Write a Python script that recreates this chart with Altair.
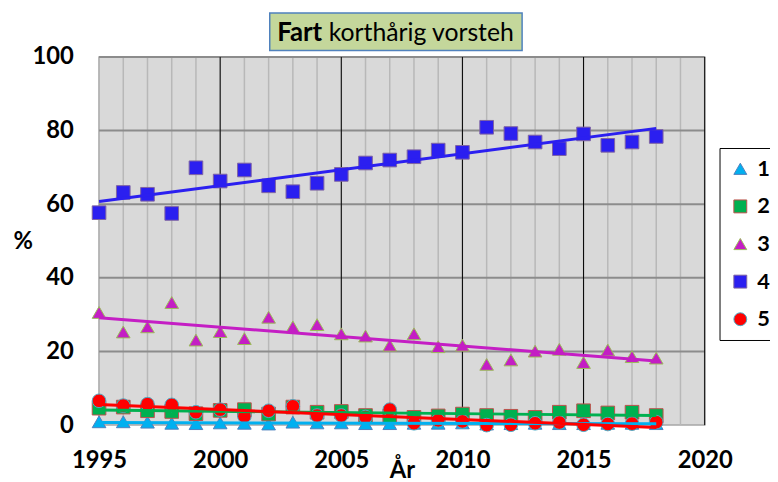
import altair as alt
import pandas as pd

years = list(range(1995, 2019))
s1 = [0.9, 0.9, 0.8, 0.5, 0.4, 0.6, 0.5, 0.3, 0.8, 0.6, 0.6, 0.4, 0.4, 0.5, 0.5, 0.6, 0.3, 0.4, 0.5, 0.4, 0.4, 0.5, 0.5, 0.4]
s2 = [4.6, 4.9, 3.9, 3.7, 3.1, 4.0, 4.2, 3.0, 4.9, 3.5, 3.7, 2.6, 2.4, 2.1, 2.5, 3.0, 2.6, 2.4, 2.1, 3.5, 3.9, 3.3, 3.5, 2.6]
s3 = [30.6, 25.3, 26.7, 33.3, 23.1, 25.4, 23.5, 29.3, 26.7, 27.3, 24.8, 24.2, 21.7, 24.8, 21.3, 21.7, 16.5, 17.7, 20.1, 20.6, 17.0, 20.4, 18.6, 18.2]
s4 = [57.7, 63.2, 62.7, 57.5, 69.9, 66.3, 69.3, 65.0, 63.4, 65.7, 68.1, 71.2, 72.0, 72.9, 74.7, 74.1, 80.9, 79.2, 76.9, 75.1, 79.1, 76.0, 76.9, 78.4]
s5 = [6.6, 5.3, 5.7, 5.5, 3.5, 4.2, 2.4, 3.9, 5.1, 2.6, 2.6, 2.2, 4.2, 0.5, 1.3, 1.0, 0.0, 0.1, 0.5, 0.7, 0.1, 0.3, 0.4, 0.8]

series_names = ["1", "2", "3", "4", "5"]
fill_colors = ["#00b0f0", "#00b050", "#c41ec4", "#2b1ff0", "#ff0000"]
stroke_colors = ["#4f81bd", "#c0504d", "#9bbb59", "#8064a2", "#4bacc6"]
line_colors = ["#00b0f0", "#00b050", "#c41ec4", "#2b1ff0", "#ff0000"]
shapes = ["triangle-up", "square", "triangle-up", "square", "circle"]

x_labels = [1995, 2000, 2005, 2010, 2015, 2020]
minor_years = list(range(1995, 2021))
major_years = [2000, 2005, 2010, 2015, 2020]
y_lines = [0, 20, 40, 60, 80, 100]

title_bold = "Fart"
title_rest = "korthårig vorsteh"
x_title = "År"
y_title = "%"

rows = []
for name, vals in zip(series_names, [s1, s2, s3, s4, s5]):
    for yr, v in zip(years, vals):
        rows.append({"year": yr, "value": v, "series": name})
df = pd.DataFrame(rows)

xscale = alt.Scale(domain=[1995, 2020], nice=False, zero=False)
yscale = alt.Scale(domain=[0, 100], nice=False)

legend = alt.Legend(
    orient="none", legendX=627, legendY=92, title=None,
    strokeColor="black", fillColor="white", padding=10,
    labelFont="Lato", labelFontSize=22, labelFontWeight="bold", labelColor="black",
    symbolSize=170, rowPadding=16, labelOffset=6, symbolStrokeWidth=1,
)

minor = alt.Chart(pd.DataFrame({"year": minor_years})).mark_rule(
    color="#b8b8b8", strokeWidth=1.5
).encode(x=alt.X("year:Q", scale=xscale))

hlines = alt.Chart(pd.DataFrame({"v": y_lines[1:]})).mark_rule(
    color="#8c8c8c", strokeWidth=2
).encode(y=alt.Y("v:Q", scale=yscale))

major = alt.Chart(pd.DataFrame({"year": major_years})).mark_rule(
    color="black", strokeWidth=1
).encode(x=alt.X("year:Q", scale=xscale))

points = alt.Chart(df).mark_point(filled=True, opacity=1, strokeWidth=1, size=190).encode(
    x=alt.X(
        "year:Q",
        scale=xscale,
        axis=alt.Axis(
            values=x_labels, format="d", grid=False, title=x_title,
            labelPadding=24, labelFlush=False, labelOverlap=False,
            titleBaseline="alphabetic", titleY=53, titleX=306,
        ),
    ),
    y=alt.Y(
        "value:Q",
        scale=yscale,
        axis=alt.Axis(
            values=y_lines, grid=False, title=y_title, labelPadding=26,
            titleAngle=0, titleX=-77, titleY=187, titleBaseline="middle",
            titleAlign="center",
        ),
    ),
    fill=alt.Fill("series:N", scale=alt.Scale(domain=series_names, range=fill_colors), legend=legend),
    stroke=alt.Stroke("series:N", scale=alt.Scale(domain=series_names, range=stroke_colors), legend=legend),
    shape=alt.Shape("series:N", scale=alt.Scale(domain=series_names, range=shapes), legend=legend),
)

trends = []
for name, col in zip(series_names, line_colors):
    trends.append(
        alt.Chart(df).transform_filter(
            alt.datum.series == name
        ).transform_regression("year", "value").mark_line(
            strokeWidth=3, color=col
        ).encode(
            x=alt.X("year:Q", scale=xscale),
            y=alt.Y("value:Q", scale=yscale),
        )
    )

title_data = alt.Data(values=[{"a": title_bold, "b": title_rest}])
box = alt.Chart(title_data).mark_rect(
    fill="#c4d79b", stroke="#4f81bd", strokeWidth=1.5
).encode(
    x=alt.value(172.5), x2=alt.value(427.5), y=alt.value(-44.5), y2=alt.value(-6.5)
)
t1 = alt.Chart(title_data).mark_text(
    font="Lato", fontSize=26, fontWeight="bold", align="right", baseline="alphabetic", color="black"
).encode(text="a:N", x=alt.value(225.5), y=alt.value(-16.5))
t2 = alt.Chart(title_data).mark_text(
    font="Lato", fontSize=25, fontWeight="normal", align="left", baseline="alphabetic", color="black"
).encode(text="b:N", x=alt.value(232), y=alt.value(-16.5))

chart = alt.layer(minor, hlines, major, points, *trends, box, t1, t2).properties(
    width=612,
    height=372,
    autosize=alt.AutoSizeParams(type="none"),
    padding={"left": 92, "top": 47, "right": 66, "bottom": 55},
).configure_view(
    fill="#d9d9d9", stroke="#a6a6a6", strokeWidth=1.5
).configure_axis(
    labelFont="Lato", labelFontSize=24, labelFontWeight="bold", labelColor="black",
    titleFont="Lato", titleFontSize=24, titleFontWeight="bold", titleColor="black",
    domain=False, ticks=False, tickSize=0,
)

chart.save("out.html", embed_options={"renderer": "svg", "actions": False})
